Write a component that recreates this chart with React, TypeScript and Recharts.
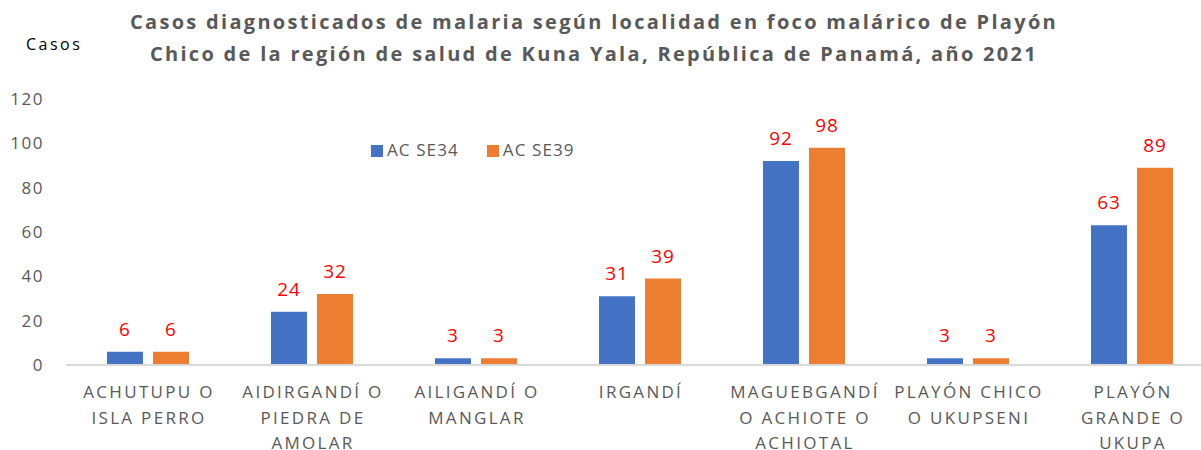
import React from 'react';
import { BarChart, Bar, XAxis, YAxis, Legend, LabelList } from 'recharts';

const categories = [
  'ACHUTUPU O\nISLA PERRO',
  'AIDIRGANDÍ O\nPIEDRA DE\nAMOLAR',
  'AILIGANDÍ O\nMANGLAR',
  'IRGANDÍ',
  'MAGUEBGANDÍ\nO ACHIOTE O\nACHIOTAL',
  'PLAYÓN CHICO\nO UKUPSENI',
  'PLAYÓN\nGRANDE O\nUKUPA',
];
const se34 = [6, 24, 3, 31, 92, 3, 63];
const se39 = [6, 32, 3, 39, 98, 3, 89];
const yTicks = [0, 20, 40, 60, 80, 100, 120];

const data = categories.map((name, i) => ({ name, se34: se34[i], se39: se39[i] }));

const FONT = '"Open Sans", sans-serif';
const GRAY = '#595959';

const MultiLineTick = (props: any) => {
  const { x, y, payload } = props;
  const lines = String(payload.value).split('\n');
  return (
    <text x={x} y={y} textAnchor="middle" fill={GRAY} fontSize={17} fontFamily={FONT} style={{ letterSpacing: 2.3 }}>
      {lines.map((l, i) => (
        <tspan key={i} x={x + 1} y={y + 25 + i * 25.5}>{l}</tspan>
      ))}
    </text>
  );
};

export default function App() {
  return (
    <div style={{ position: 'absolute', left: 0, top: 0, width: 1201, height: 450, overflow: 'hidden', background: '#fff', fontFamily: FONT }}>
      <div style={{ position: 'absolute', left: 0, top: 6, width: 1188, textAlign: 'center', fontWeight: 700, fontSize: 20, lineHeight: '32px', color: GRAY, letterSpacing: 2.3 }}>
        Casos diagnosticados de malaria según localidad en foco malárico de Playón
        <br />
        Chico de la región de salud de Kuna Yala, República de Panamá, año 2021
      </div>
      <div style={{ position: 'absolute', left: 26, top: 33, fontSize: 16, color: '#000', letterSpacing: 2.5 }}>Casos</div>
      <BarChart
        width={1214}
        height={450}
        data={data}
        margin={{ top: 99, right: 0, bottom: 0, left: 0 }}
        barSize={36}
        barGap={10}
      >
        <XAxis
          dataKey="name"
          interval={0}
          height={85}
          tickLine={false}
          axisLine={{ stroke: '#D9D9D9', strokeWidth: 2 }}
          tick={<MultiLineTick />}
        />
        <YAxis
          domain={[0, 120]}
          ticks={yTicks}
          width={66}
          axisLine={false}
          tickLine={false}
          tickMargin={16}
          tick={{ fill: GRAY, fontSize: 17, fontFamily: FONT, style: { letterSpacing: 1.5 } }}
        />
        <Legend
          verticalAlign="middle"
          align="center"
          iconType="square"
          iconSize={12}
          wrapperStyle={{ position: 'absolute', top: 138, left: 371, width: 'auto', fontSize: 17, letterSpacing: 1.1 }}
          formatter={(v: string) => <span style={{ color: GRAY, marginRight: 18 }}>{v}</span>}
        />
        <Bar dataKey="se34" name="AC SE34" fill="#4472C4" isAnimationActive={false}>
          <LabelList dataKey="se34" position="top" offset={16} fill="#FF0000" fontSize={19} fontFamily={FONT} style={{ letterSpacing: 1 }} />
        </Bar>
        <Bar dataKey="se39" name="AC SE39" fill="#ED7D31" isAnimationActive={false}>
          <LabelList dataKey="se39" position="top" offset={16} fill="#FF0000" fontSize={19} fontFamily={FONT} style={{ letterSpacing: 1 }} />
        </Bar>
      </BarChart>
    </div>
  );
}
